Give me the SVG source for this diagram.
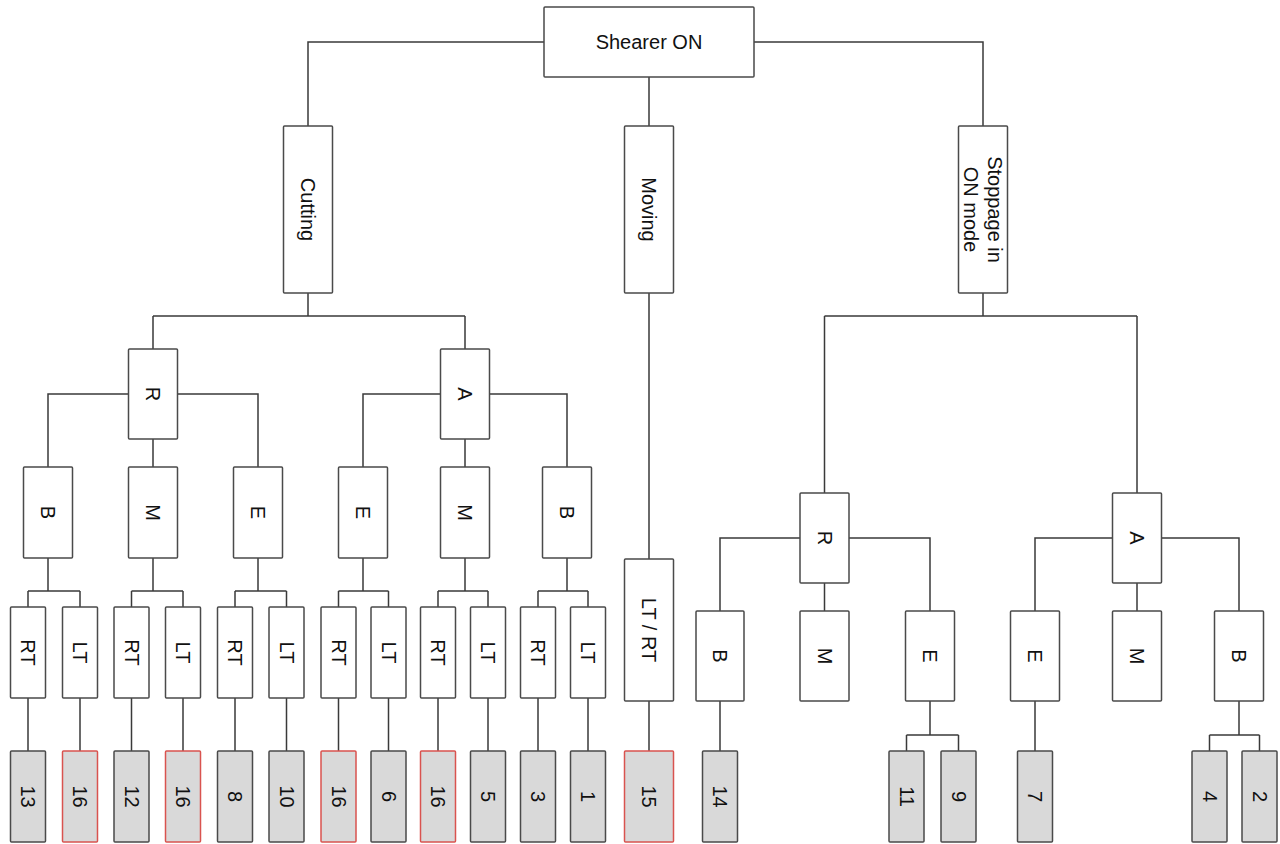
<svg xmlns="http://www.w3.org/2000/svg" width="1280" height="844" viewBox="0 0 1280 844">
<style>
.box{fill:#fff;stroke:#4a4a4a;stroke-width:1.5}
.leaf{fill:#d9d9d9;stroke:#4a4a4a;stroke-width:1.5}
.red{stroke:#d9534f}
.conn path{fill:none;stroke:#3a3a3a;stroke-width:1.5}
text{font-family:"Liberation Sans",Arial,sans-serif;font-size:20px;fill:#111;text-anchor:middle;dominant-baseline:central}
</style>
<rect width="1280" height="844" fill="#fff"/>
<g class="conn" id="connectors">
<path d="M544,42H308V126M754,42H983V126M649,77V126"/>
<path d="M308,293V316M153,316H465M153,316V349M465,316V349"/>
<path d="M649,293V559M649,701V751"/>
<path d="M983,293V316M824.5,316H1137M824.5,316V493M1137,316V493"/>
<path d="M128.5,394H48V467M177.5,394H258V467M153,439V467"/>
<path d="M440.5,394H363V467M489.5,394H567V467M465,439V467"/>
<path d="M48,558V591M28,591H80M28,591V607M80,591V607"/>
<path d="M153,558V591M131.5,591H183M131.5,591V607M183,591V607"/>
<path d="M258,558V591M235,591H286.5M235,591V607M286.5,591V607"/>
<path d="M363,558V591M338.5,591H388.5M338.5,591V607M388.5,591V607"/>
<path d="M465,558V591M438,591H488M438,591V607M488,591V607"/>
<path d="M567,558V591M538,591H588M538,591V607M588,591V607"/>
<path d="M28,698V751M80,698V751M131.5,698V751M183,698V751M235,698V751M286.5,698V751M338.5,698V751M388.5,698V751M438,698V751M488,698V751M538,698V751M588,698V751"/>
<path d="M800,538H720V611M849,538H930V611M824.5,583V611"/>
<path d="M720,701V751M930,701V735M906.5,735H958.5M906.5,735V751M958.5,735V751"/>
<path d="M1112.5,538H1035V611M1161.5,538H1239V611M1137,583V611"/>
<path d="M1035,701V751M1239,701V735M1209.5,735H1259.5M1209.5,735V751M1259.5,735V751"/>
</g>
<g id="n-root"><rect class="box" x="544" y="7" width="210" height="70" rx="1"/><text x="649" y="42">Shearer ON</text></g>
<g id="n-cutting"><rect class="box" x="283.5" y="126" width="49" height="167" rx="1"/><text transform="translate(308,209.5) rotate(90)">Cutting</text></g>
<g id="n-moving"><rect class="box" x="624.5" y="126" width="49" height="167" rx="1"/><text transform="translate(649,209.5) rotate(90)">Moving</text></g>
<g id="n-stoppage"><rect class="box" x="958.5" y="126" width="49" height="167" rx="1"/><text transform="translate(983,209.5) rotate(90)"><tspan x="0" y="-12">Stoppage in</tspan><tspan x="0" y="12">ON mode</tspan></text></g>
<g id="n-cut-R"><rect class="box" x="128.5" y="349" width="49" height="90" rx="1"/><text transform="translate(153,394) rotate(90)">R</text></g>
<g id="n-cut-A"><rect class="box" x="440.5" y="349" width="49" height="90" rx="1"/><text transform="translate(465,394) rotate(90)">A</text></g>
<g id="n-cut-R-B"><rect class="box" x="23.5" y="467" width="49" height="91" rx="1"/><text transform="translate(48,512.5) rotate(90)">B</text></g>
<g id="n-cut-R-M"><rect class="box" x="128.5" y="467" width="49" height="91" rx="1"/><text transform="translate(153,512.5) rotate(90)">M</text></g>
<g id="n-cut-R-E"><rect class="box" x="233.5" y="467" width="49" height="91" rx="1"/><text transform="translate(258,512.5) rotate(90)">E</text></g>
<g id="n-cut-A-E"><rect class="box" x="338.5" y="467" width="49" height="91" rx="1"/><text transform="translate(363,512.5) rotate(90)">E</text></g>
<g id="n-cut-A-M"><rect class="box" x="440.5" y="467" width="49" height="91" rx="1"/><text transform="translate(465,512.5) rotate(90)">M</text></g>
<g id="n-cut-A-B"><rect class="box" x="542.5" y="467" width="49" height="91" rx="1"/><text transform="translate(567,512.5) rotate(90)">B</text></g>
<g id="n-rt1"><rect class="box" x="10.5" y="607" width="35" height="91" rx="1"/><text transform="translate(28,652.5) rotate(90)">RT</text></g>
<g id="n-lt1"><rect class="box" x="62.5" y="607" width="35" height="91" rx="1"/><text transform="translate(80,652.5) rotate(90)">LT</text></g>
<g id="n-rt2"><rect class="box" x="114" y="607" width="35" height="91" rx="1"/><text transform="translate(131.5,652.5) rotate(90)">RT</text></g>
<g id="n-lt2"><rect class="box" x="165.5" y="607" width="35" height="91" rx="1"/><text transform="translate(183,652.5) rotate(90)">LT</text></g>
<g id="n-rt3"><rect class="box" x="217.5" y="607" width="35" height="91" rx="1"/><text transform="translate(235,652.5) rotate(90)">RT</text></g>
<g id="n-lt3"><rect class="box" x="269" y="607" width="35" height="91" rx="1"/><text transform="translate(286.5,652.5) rotate(90)">LT</text></g>
<g id="n-rt4"><rect class="box" x="321" y="607" width="35" height="91" rx="1"/><text transform="translate(338.5,652.5) rotate(90)">RT</text></g>
<g id="n-lt4"><rect class="box" x="371" y="607" width="35" height="91" rx="1"/><text transform="translate(388.5,652.5) rotate(90)">LT</text></g>
<g id="n-rt5"><rect class="box" x="420.5" y="607" width="35" height="91" rx="1"/><text transform="translate(438,652.5) rotate(90)">RT</text></g>
<g id="n-lt5"><rect class="box" x="470.5" y="607" width="35" height="91" rx="1"/><text transform="translate(488,652.5) rotate(90)">LT</text></g>
<g id="n-rt6"><rect class="box" x="520.5" y="607" width="35" height="91" rx="1"/><text transform="translate(538,652.5) rotate(90)">RT</text></g>
<g id="n-lt6"><rect class="box" x="570.5" y="607" width="35" height="91" rx="1"/><text transform="translate(588,652.5) rotate(90)">LT</text></g>
<g id="n-leaf13"><rect class="leaf" x="10.5" y="751" width="35" height="91" rx="1"/><text transform="translate(28,796.5) rotate(90)">13</text></g>
<g id="n-leaf16a"><rect class="leaf red" x="62.5" y="751" width="35" height="91" rx="1"/><text transform="translate(80,796.5) rotate(90)">16</text></g>
<g id="n-leaf12"><rect class="leaf" x="114" y="751" width="35" height="91" rx="1"/><text transform="translate(131.5,796.5) rotate(90)">12</text></g>
<g id="n-leaf16b"><rect class="leaf red" x="165.5" y="751" width="35" height="91" rx="1"/><text transform="translate(183,796.5) rotate(90)">16</text></g>
<g id="n-leaf8"><rect class="leaf" x="217.5" y="751" width="35" height="91" rx="1"/><text transform="translate(235,796.5) rotate(90)">8</text></g>
<g id="n-leaf10"><rect class="leaf" x="269" y="751" width="35" height="91" rx="1"/><text transform="translate(286.5,796.5) rotate(90)">10</text></g>
<g id="n-leaf16c"><rect class="leaf red" x="321" y="751" width="35" height="91" rx="1"/><text transform="translate(338.5,796.5) rotate(90)">16</text></g>
<g id="n-leaf6"><rect class="leaf" x="371" y="751" width="35" height="91" rx="1"/><text transform="translate(388.5,796.5) rotate(90)">6</text></g>
<g id="n-leaf16d"><rect class="leaf red" x="420.5" y="751" width="35" height="91" rx="1"/><text transform="translate(438,796.5) rotate(90)">16</text></g>
<g id="n-leaf5"><rect class="leaf" x="470.5" y="751" width="35" height="91" rx="1"/><text transform="translate(488,796.5) rotate(90)">5</text></g>
<g id="n-leaf3"><rect class="leaf" x="520.5" y="751" width="35" height="91" rx="1"/><text transform="translate(538,796.5) rotate(90)">3</text></g>
<g id="n-leaf1"><rect class="leaf" x="570.5" y="751" width="35" height="91" rx="1"/><text transform="translate(588,796.5) rotate(90)">1</text></g>
<g id="n-ltrt"><rect class="box" x="624.5" y="559" width="49" height="142" rx="1"/><text transform="translate(649,630) rotate(90)">LT / RT</text></g>
<g id="n-leaf15"><rect class="leaf red" x="624.5" y="751" width="49" height="91" rx="1"/><text transform="translate(649,796.5) rotate(90)">15</text></g>
<g id="n-stop-R"><rect class="box" x="800" y="493" width="49" height="90" rx="1"/><text transform="translate(824.5,538) rotate(90)">R</text></g>
<g id="n-stop-R-B"><rect class="box" x="696" y="611" width="48" height="90" rx="1"/><text transform="translate(720,656) rotate(90)">B</text></g>
<g id="n-stop-R-M"><rect class="box" x="800" y="611" width="49" height="90" rx="1"/><text transform="translate(824.5,656) rotate(90)">M</text></g>
<g id="n-stop-R-E"><rect class="box" x="905.5" y="611" width="49" height="90" rx="1"/><text transform="translate(930,656) rotate(90)">E</text></g>
<g id="n-leaf14"><rect class="leaf" x="702.5" y="751" width="35" height="91" rx="1"/><text transform="translate(720,796.5) rotate(90)">14</text></g>
<g id="n-leaf11"><rect class="leaf" x="889" y="751" width="35" height="91" rx="1"/><text transform="translate(906.5,796.5) rotate(90)">11</text></g>
<g id="n-leaf9"><rect class="leaf" x="941" y="751" width="35" height="91" rx="1"/><text transform="translate(958.5,796.5) rotate(90)">9</text></g>
<g id="n-stop-A"><rect class="box" x="1112.5" y="493" width="49" height="90" rx="1"/><text transform="translate(1137,538) rotate(90)">A</text></g>
<g id="n-stop-A-E"><rect class="box" x="1010.5" y="611" width="49" height="90" rx="1"/><text transform="translate(1035,656) rotate(90)">E</text></g>
<g id="n-stop-A-M"><rect class="box" x="1112.5" y="611" width="49" height="90" rx="1"/><text transform="translate(1137,656) rotate(90)">M</text></g>
<g id="n-stop-A-B"><rect class="box" x="1214.5" y="611" width="49" height="90" rx="1"/><text transform="translate(1239,656) rotate(90)">B</text></g>
<g id="n-leaf7"><rect class="leaf" x="1017.5" y="751" width="35" height="91" rx="1"/><text transform="translate(1035,796.5) rotate(90)">7</text></g>
<g id="n-leaf4"><rect class="leaf" x="1192" y="751" width="35" height="91" rx="1"/><text transform="translate(1209.5,796.5) rotate(90)">4</text></g>
<g id="n-leaf2"><rect class="leaf" x="1242" y="751" width="35" height="91" rx="1"/><text transform="translate(1259.5,796.5) rotate(90)">2</text></g>
</svg>
